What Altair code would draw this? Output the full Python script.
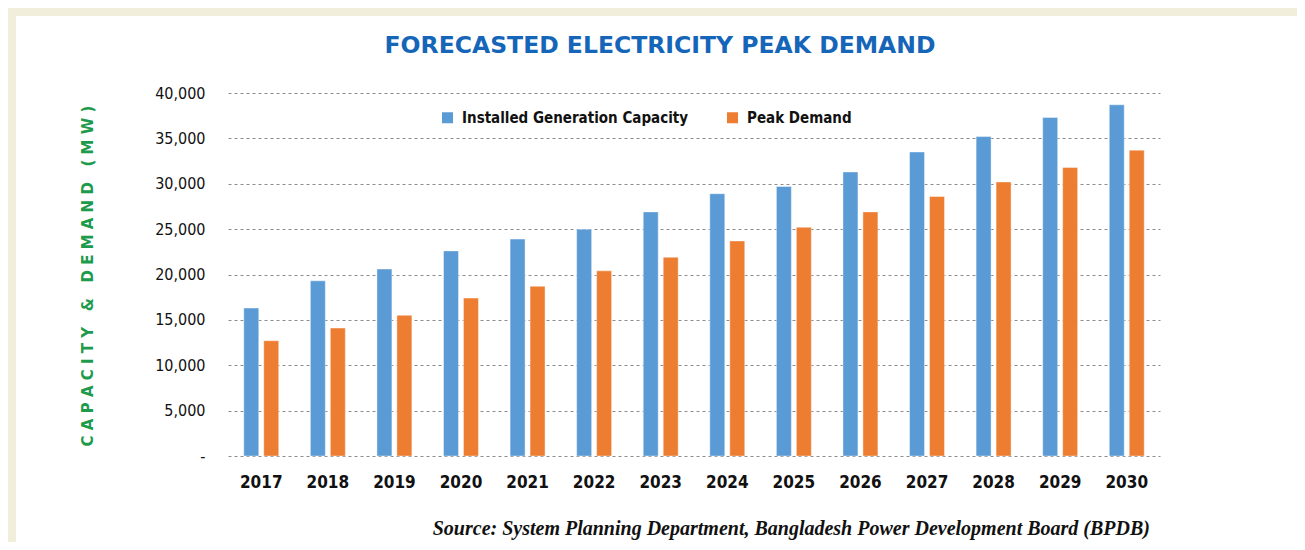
import altair as alt
import pandas as pd

years = [str(y) for y in range(2017, 2031)]
capacity = [16300, 19300, 20600, 22600, 23900, 25000, 26900, 28900, 29700, 31300, 33500, 35200, 37300, 38700]
demand = [12700, 14100, 15500, 17400, 18700, 20400, 21900, 23700, 25200, 26900, 28600, 30200, 31800, 33700]
series_names = ["Installed Generation Capacity", "Peak Demand"]
series_colors = ["#5b9bd5", "#ed7d31"]
y_ticks = [0, 5000, 10000, 15000, 20000, 25000, 30000, 35000, 40000]

rows = []
for i, yr in enumerate(years):
    rows.append({"year": yr, "series": series_names[0], "value": capacity[i]})
    rows.append({"year": yr, "series": series_names[1], "value": demand[i]})
df = pd.DataFrame(rows)

W, H = 932, 363
PL, PT, PR, PB = 220, 85, 137, 86

narrow = "DejaVu Sans Condensed, DejaVu Sans, sans-serif"

bars = alt.Chart(df).mark_bar(stroke="white", strokeWidth=0.6, strokeOpacity=0.7).encode(
    x=alt.X("year:N", sort=years,
            scale=alt.Scale(paddingInner=0.475, paddingOuter=0.237),
            axis=alt.Axis(title=None, labelAngle=0, ticks=False, domain=False,
                          labelFont=narrow, labelFontWeight="bold", labelFontSize=17,
                          labelColor="#111111", labelPadding=18)),
    xOffset=alt.XOffset("series:N", sort=series_names,
                        scale=alt.Scale(paddingInner=0.25, paddingOuter=0)),
    y=alt.Y("value:Q",
            scale=alt.Scale(domain=[0, 40000], nice=False),
            axis=alt.Axis(title=None, values=y_ticks, ticks=False, domain=False,
                          grid=True, gridDash=[3, 3], gridColor="#8c8c8c", gridWidth=1,
                          labelFont=narrow, labelFontSize=16, labelColor="#111111",
                          labelPadding=23,
                          labelExpr="datum.value == 0 ? '-' : format(datum.value, ',')")),
    color=alt.Color("series:N", sort=series_names,
                    scale=alt.Scale(domain=series_names, range=series_colors),
                    legend=alt.Legend(title=None, orient="none", direction="horizontal",
                                      legendX=212, legendY=17,
                                      symbolType="square", symbolSize=121,
                                      symbolStrokeWidth=0, labelOffset=7,
                                      columnPadding=36, labelLimit=0,
                                      labelFont=narrow, labelFontWeight="bold",
                                      labelFontSize=15, labelColor="#111111")),
)

one = pd.DataFrame({"a": [0]})

top_band = alt.Chart(one).mark_rect(color="#f2eedc").encode(
    x=alt.value(-PL), x2=alt.value(W + PR), y=alt.value(-PT), y2=alt.value(-PT + 8))
left_band = alt.Chart(one).mark_rect(color="#f2eedc").encode(
    x=alt.value(-PL), x2=alt.value(-PL + 8), y=alt.value(-PT), y2=alt.value(H + PB))

title = alt.Chart(one).mark_text(
    text="FORECASTED ELECTRICITY PEAK DEMAND", font="DejaVu Sans", fontWeight="bold",
    fontSize=23.5, color="#1565b8", align="center", baseline="middle"
).encode(x=alt.value(432), y=alt.value(-47))

nb = "\u00a0"
ytitle_text = (nb * 3).join(nb.join(w) for w in ["CAPACITY", "&", "DEMAND", "(MW)"])
ytitle = alt.Chart(one).mark_text(
    text=ytitle_text, font="DejaVu Sans",
    fontWeight="bold", fontSize=15, color="#1e9a4c", angle=270,
    align="center", baseline="middle"
).encode(x=alt.value(-140), y=alt.value(183))

source = alt.Chart(one).mark_text(
    text="Source: System Planning Department, Bangladesh Power Development Board (BPDB)",
    font="Liberation Serif", fontStyle="italic", fontWeight="bold", fontSize=20,
    color="#111111", align="right", baseline="middle"
).encode(x=alt.value(922), y=alt.value(436))

chart = alt.layer(top_band, left_band, bars, title, ytitle, source).properties(
    width=W, height=H,
    padding={"left": PL, "top": PT, "right": PR, "bottom": PB},
    autosize=alt.AutoSizeParams(type="none"),
    background="white",
).configure_view(stroke=None)

chart.save("out.html", embed_options={"renderer": "svg", "actions": False})
